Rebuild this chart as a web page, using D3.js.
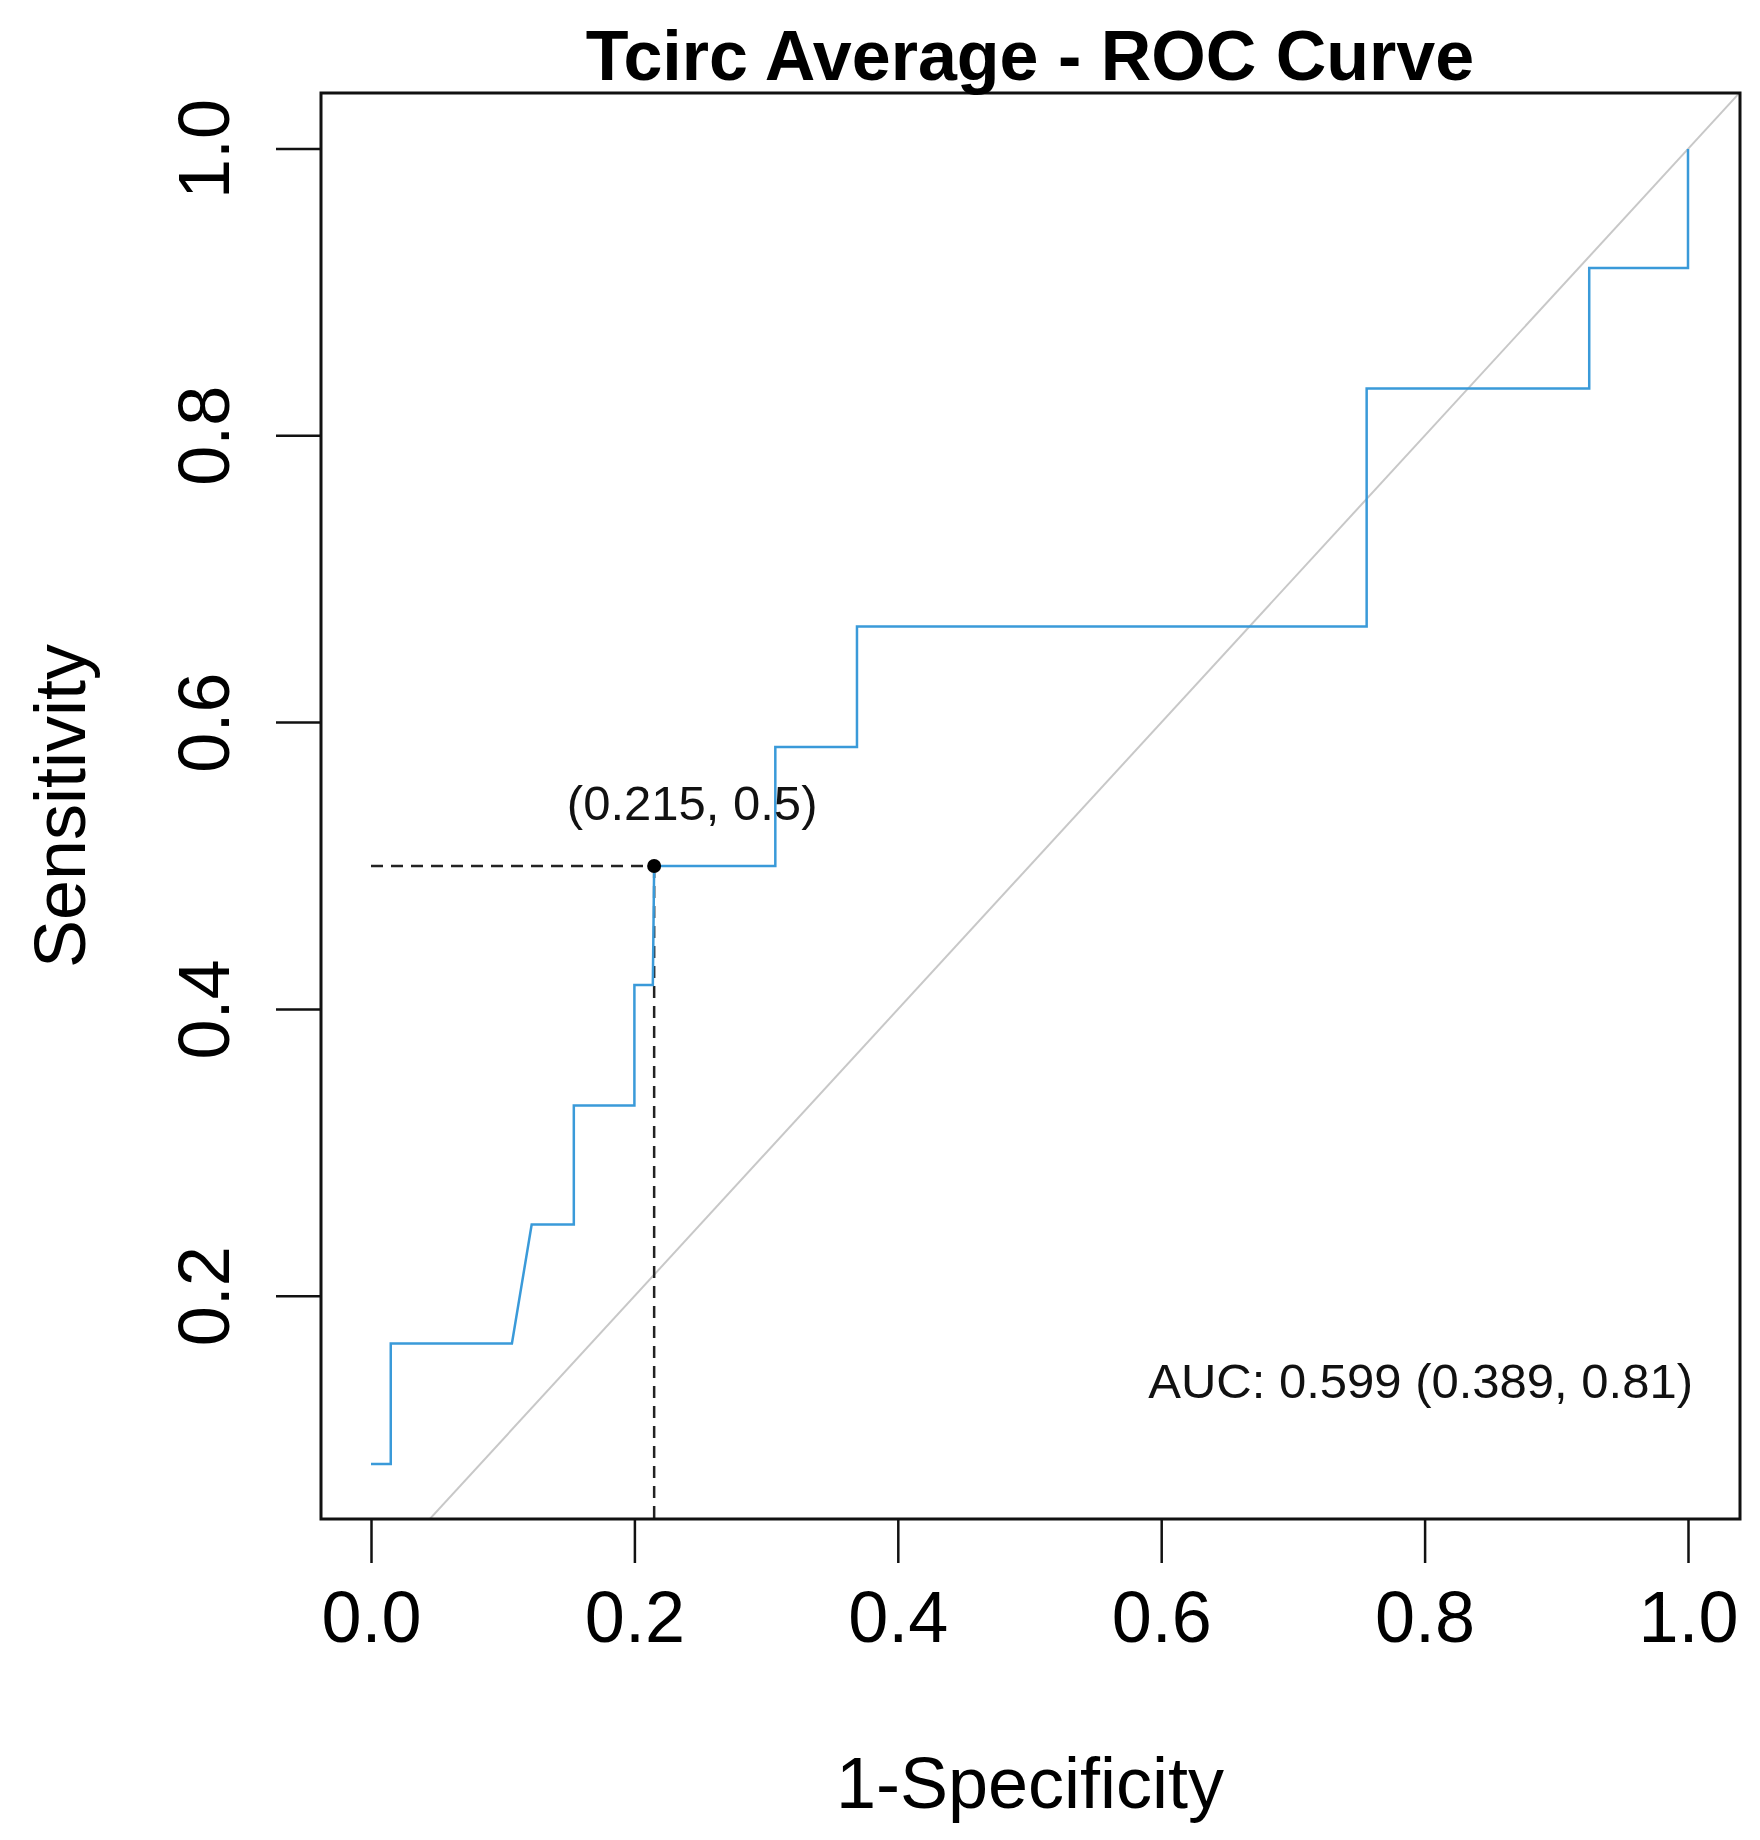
<!DOCTYPE html>
<html><head><meta charset="utf-8">
<script src="https://cdn.jsdelivr.net/npm/d3@7"></script>
<style>body{margin:0;background:#fff}text{font-family:"Liberation Sans",Arial,sans-serif}</style>
</head><body><svg id="chart" width="1760" height="1840"></svg>
<script>
// ROC curve steps (1-specificity, sensitivity)
const fpr = [0, 0.015, 0.015, 0.107, 0.122, 0.154, 0.154, 0.2, 0.2, 0.214, 0.215, 0.307, 0.307, 0.369, 0.369, 0.756, 0.756, 0.925, 0.925, 1.0, 1.0];
const tpr = [0.083, 0.083, 0.167, 0.167, 0.25, 0.25, 0.333, 0.333, 0.417, 0.417, 0.5, 0.5, 0.583, 0.583, 0.667, 0.667, 0.833, 0.833, 0.917, 0.917, 1.0];
const xTicks = [0, 0.2, 0.4, 0.6, 0.8, 1.0];
const yTicks = [0.2, 0.4, 0.6, 0.8, 1.0];
const bestPoint = [0.215, 0.5];

const svg = d3.select("#chart");
const boxL = 321, boxR = 1740, boxT = 93, boxB = 1519;
const x = d3.scaleLinear().domain([0, 1]).range([371, 1688]);
const y = d3.scaleLinear().domain([0, 1]).range([1583, 149]);

svg.append("defs").append("clipPath").attr("id", "clip")
  .append("rect").attr("x", boxL).attr("y", boxT).attr("width", boxR - boxL).attr("height", boxB - boxT);

const plot = svg.append("g").attr("clip-path", "url(#clip)");

// chance diagonal
plot.append("line")
  .attr("x1", x(0)).attr("y1", y(0)).attr("x2", x(1.1)).attr("y2", y(1.1))
  .attr("stroke", "#c8c8c8").attr("stroke-width", 2);

// reference lines to the best point
plot.append("line")
  .attr("x1", x(0)).attr("y1", y(bestPoint[1])).attr("x2", x(bestPoint[0])).attr("y2", y(bestPoint[1]))
  .attr("stroke", "#222").attr("stroke-width", 2.5).attr("stroke-dasharray", "12,8");
plot.append("line")
  .attr("x1", x(bestPoint[0])).attr("y1", y(bestPoint[1])).attr("x2", x(bestPoint[0])).attr("y2", boxB)
  .attr("stroke", "#222").attr("stroke-width", 2.5).attr("stroke-dasharray", "12,8");

const line = d3.line().x(d => x(d[0])).y(d => y(d[1]));
plot.append("path")
  .datum(fpr.map((v, i) => [v, tpr[i]]))
  .attr("d", line).attr("fill", "none")
  .attr("stroke", "#3a9ad9").attr("stroke-width", 2.5);

plot.append("circle").attr("cx", x(bestPoint[0])).attr("cy", y(bestPoint[1])).attr("r", 7).attr("fill", "#000");

svg.append("text").attr("x", x(bestPoint[0]) + 38).attr("y", y(bestPoint[1]) - 46)
  .attr("text-anchor", "middle").attr("font-size", 49).attr("fill", "#111")
  .text("(" + bestPoint[0] + ", " + bestPoint[1] + ")");

svg.append("text").attr("x", 1693).attr("y", 1398)
  .attr("text-anchor", "end").attr("font-size", 49).attr("fill", "#111")
  .text("AUC: 0.599 (0.389, 0.81)");

// box
svg.append("rect").attr("x", boxL).attr("y", boxT).attr("width", boxR - boxL).attr("height", boxB - boxT)
  .attr("fill", "none").attr("stroke", "#111").attr("stroke-width", 3);

// x axis
const xAxis = svg.append("g").attr("transform", `translate(0,${boxB})`)
  .call(d3.axisBottom(x).tickValues(xTicks).tickFormat(d3.format(".1f")).tickSize(44).tickPadding(28).tickSizeOuter(0));
xAxis.select(".domain").remove();
xAxis.selectAll("line").attr("stroke", "#111").attr("stroke-width", 2.5);
xAxis.selectAll("text").attr("font-size", 72).attr("fill", "#000").attr("font-family", "Liberation Sans, Arial, sans-serif");

// y axis
const yAxis = svg.append("g").attr("transform", `translate(${boxL},0)`)
  .call(d3.axisLeft(y).tickValues(yTicks).tickFormat(d3.format(".1f")).tickSize(45).tickSizeOuter(0));
yAxis.select(".domain").remove();
yAxis.selectAll(".tick").attr("transform", null);
yAxis.selectAll(".tick line").attr("stroke", "#111").attr("stroke-width", 2.5)
  .attr("transform", d => `translate(0,${y(d)})`);
yAxis.selectAll(".tick text")
  .attr("font-size", 72).attr("fill", "#000").attr("font-family", "Liberation Sans, Arial, sans-serif")
  .attr("x", null).attr("dy", null).attr("y", 0).attr("text-anchor", "middle")
  .attr("transform", d => `translate(-92,${y(d)}) rotate(-90)`);

svg.append("text").attr("x", 1030).attr("y", 80).attr("text-anchor", "middle")
  .attr("font-size", 70).attr("font-weight", "bold").text("Tcirc Average - ROC Curve");
svg.append("text").attr("x", 1030).attr("y", 1808).attr("text-anchor", "middle")
  .attr("font-size", 72).text("1-Specificity");
svg.append("text").attr("transform", "translate(85,806) rotate(-90)").attr("text-anchor", "middle")
  .attr("font-size", 72).text("Sensitivity");
</script></body></html>
